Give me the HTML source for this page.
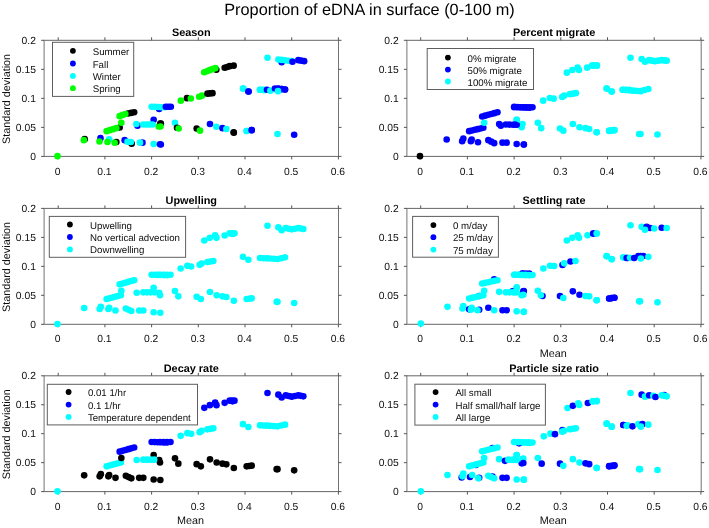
<!DOCTYPE html><html><head><meta charset="utf-8"><style>html,body{margin:0;padding:0;background:#fff;}svg{display:block;will-change:transform;}text{text-rendering:geometricPrecision;font-family:"Liberation Sans",sans-serif;fill:#0d0d0d;}</style></head><body>
<svg width="709" height="528" viewBox="0 0 709 528">
<rect width="709" height="528" fill="#fff"/>
<text x="369.5" y="14.9" font-size="16.3" text-anchor="middle" style="fill:#000">Proportion of eDNA in surface (0-100 m)</text>
<path d="M43.6 40.3H339M43.6 156.4H339" stroke="#666" stroke-width="1" fill="none"/>
<path d="M44.1 40.3V156.4M338.5 40.3V156.4" stroke="#737373" stroke-width="1" fill="none"/>
<path d="M58.2 156.4v3M58.2 40.3v-3M104.9 156.4v3M104.9 40.3v-3M151.6 156.4v3M151.6 40.3v-3M198.3 156.4v3M198.3 40.3v-3M245 156.4v3M245 40.3v-3M291.7 156.4v3M291.7 40.3v-3M338.4 156.4v3M338.4 40.3v-3M44.1 156.4h-3M338.5 156.4h3M44.1 127.38h-3M338.5 127.38h3M44.1 98.35h-3M338.5 98.35h3M44.1 69.33h-3M338.5 69.33h3M44.1 40.3h-3M338.5 40.3h3" stroke="#555555" stroke-width="1" fill="none"/>
<g transform="translate(0,-335.2)" stroke-linecap="round" stroke-linejoin="round" fill="none" stroke-width="6.6">
<circle cx="57.5" cy="491.33" r="3.3" fill="#00ff00" stroke="none"/>
<circle cx="84.67" cy="474.33" r="3.3" fill="#000000" stroke="none"/>
<circle cx="83.83" cy="475.33" r="3.3" fill="#00ff00" stroke="none"/>
<circle cx="100.5" cy="473.33" r="3.3" fill="#0000ff" stroke="none"/>
<circle cx="99.5" cy="476.67" r="3.3" fill="#00ff00" stroke="none"/>
<circle cx="109.17" cy="474.5" r="3.3" fill="#00ffff" stroke="none"/>
<circle cx="107.5" cy="477.17" r="3.3" fill="#00ff00" stroke="none"/>
<circle cx="116.33" cy="477.17" r="3.3" fill="#000000" stroke="none"/>
<circle cx="114.67" cy="478" r="3.3" fill="#00ff00" stroke="none"/>
<circle cx="124.67" cy="475.33" r="3.3" fill="#0000ff" stroke="none"/>
<circle cx="131.67" cy="478.83" r="3.3" fill="#000000" stroke="none"/>
<g fill="#00ffff"><circle cx="127.5" cy="477" r="3.3"/><circle cx="130.83" cy="477.17" r="3.3"/></g>
<circle cx="142.5" cy="477.83" r="3.3" fill="#0000ff" stroke="none"/>
<circle cx="140" cy="477.83" r="3.3" fill="#00ffff" stroke="none"/>
<circle cx="153.67" cy="479.17" r="3.3" fill="#00ffff" stroke="none"/>
<circle cx="160" cy="479.5" r="3.3" fill="#0000ff" stroke="none"/>
<circle cx="119.67" cy="462.67" r="3.3" fill="#000000" stroke="none"/>
<g fill="#00ff00"><circle cx="106.67" cy="466.33" r="3.3"/><circle cx="109.89" cy="465.33" r="3.3"/><circle cx="113.11" cy="464.33" r="3.3"/><circle cx="116.33" cy="463.33" r="3.3"/></g>
<circle cx="121.33" cy="458" r="3.3" fill="#00ff00" stroke="none"/>
<g fill="#000000"><circle cx="128" cy="448.67" r="3.3"/><circle cx="131.08" cy="448.08" r="3.3"/><circle cx="134.17" cy="447.5" r="3.3"/></g>
<g fill="#00ff00"><circle cx="119.67" cy="451.33" r="3.3"/><circle cx="122.5" cy="450.25" r="3.3"/><circle cx="125.33" cy="449.17" r="3.3"/></g>
<circle cx="153.67" cy="455" r="3.3" fill="#0000ff" stroke="none"/>
<circle cx="160.33" cy="458.67" r="3.3" fill="#000000" stroke="none"/>
<circle cx="158.67" cy="461.67" r="3.3" fill="#00ff00" stroke="none"/>
<circle cx="137.5" cy="460.83" r="3.3" fill="#0000ff" stroke="none"/>
<circle cx="136.33" cy="459.17" r="3.3" fill="#00ffff" stroke="none"/>
<g fill="#00ffff"><circle cx="143.33" cy="459.67" r="3.3"/><circle cx="146.39" cy="459.67" r="3.3"/><circle cx="149.44" cy="459.67" r="3.3"/><circle cx="152.5" cy="459.67" r="3.3"/></g>
<circle cx="159.17" cy="444.17" r="3.3" fill="#0000ff" stroke="none"/>
<g fill="#00ffff"><circle cx="151.67" cy="442" r="3.3"/><circle cx="155" cy="442.12" r="3.3"/><circle cx="158.33" cy="442.25" r="3.3"/><circle cx="161.67" cy="442.38" r="3.3"/><circle cx="165" cy="442.5" r="3.3"/></g>
<g fill="#0000ff"><circle cx="165.83" cy="442" r="3.3"/><circle cx="168.33" cy="442" r="3.3"/><circle cx="170.83" cy="442" r="3.3"/></g>
<circle cx="216.33" cy="405" r="3.3" fill="#000000" stroke="none"/>
<g fill="#00ff00"><circle cx="204.17" cy="407.5" r="3.3"/><circle cx="206.92" cy="406.42" r="3.3"/><circle cx="209.67" cy="405.33" r="3.3"/><circle cx="212.5" cy="404.33" r="3.3"/><circle cx="215.33" cy="403.33" r="3.3"/></g>
<g fill="#000000"><circle cx="224.67" cy="403" r="3.3"/><circle cx="227.17" cy="402.17" r="3.3"/><circle cx="229.67" cy="401.33" r="3.3"/><circle cx="233.67" cy="400.83" r="3.3"/></g>
<circle cx="187" cy="433.33" r="3.3" fill="#000000" stroke="none"/>
<circle cx="180.83" cy="435.83" r="3.3" fill="#00ff00" stroke="none"/>
<circle cx="190.83" cy="433.67" r="3.3" fill="#00ff00" stroke="none"/>
<g fill="#00ff00"><circle cx="199.17" cy="432" r="3.3"/><circle cx="202" cy="430.83" r="3.3"/></g>
<g fill="#000000"><circle cx="207.5" cy="428.83" r="3.3"/><circle cx="210" cy="428.58" r="3.3"/><circle cx="212.5" cy="428.33" r="3.3"/></g>
<circle cx="243.33" cy="423.67" r="3.3" fill="#00ffff" stroke="none"/>
<circle cx="248.67" cy="426.67" r="3.3" fill="#0000ff" stroke="none"/>
<g fill="#00ffff"><circle cx="260" cy="425" r="3.3"/><circle cx="262.5" cy="425" r="3.3"/><circle cx="265" cy="425" r="3.3"/></g>
<g fill="#0000ff"><circle cx="278.33" cy="423.67" r="3.3"/><circle cx="281.67" cy="424.17" r="3.3"/><circle cx="285" cy="424.67" r="3.3"/></g>
<circle cx="160.83" cy="458.67" r="3.3" fill="#000000" stroke="none"/>
<circle cx="160.5" cy="461.67" r="3.3" fill="#00ff00" stroke="none"/>
<circle cx="175" cy="458" r="3.3" fill="#00ffff" stroke="none"/>
<circle cx="177" cy="463" r="3.3" fill="#000000" stroke="none"/>
<circle cx="178.67" cy="463.67" r="3.3" fill="#00ff00" stroke="none"/>
<circle cx="196.67" cy="463.67" r="3.3" fill="#000000" stroke="none"/>
<circle cx="200" cy="465.83" r="3.3" fill="#00ff00" stroke="none"/>
<circle cx="210" cy="459.17" r="3.3" fill="#0000ff" stroke="none"/>
<circle cx="216.33" cy="462" r="3.3" fill="#00ffff" stroke="none"/>
<circle cx="222.5" cy="463.33" r="3.3" fill="#0000ff" stroke="none"/>
<circle cx="226.33" cy="464.17" r="3.3" fill="#00ffff" stroke="none"/>
<circle cx="233.83" cy="468" r="3.3" fill="#000000" stroke="none"/>
<circle cx="246.67" cy="466.17" r="3.3" fill="#00ffff" stroke="none"/>
<circle cx="251.67" cy="465.33" r="3.3" fill="#0000ff" stroke="none"/>
<circle cx="160.83" cy="479.67" r="3.3" fill="#0000ff" stroke="none"/>
<circle cx="281.67" cy="397.5" r="3.3" fill="#0000ff" stroke="none"/>
<circle cx="267.5" cy="393" r="3.3" fill="#00ffff" stroke="none"/>
<g fill="#00ffff"><circle cx="278.33" cy="394.67" r="3.3"/><circle cx="281.67" cy="395.08" r="3.3"/><circle cx="285" cy="395.5" r="3.3"/><circle cx="288.33" cy="395.92" r="3.3"/><circle cx="291.67" cy="396.33" r="3.3"/></g>
<circle cx="292.5" cy="397" r="3.3" fill="#0000ff" stroke="none"/>
<g fill="#0000ff"><circle cx="298.33" cy="395.33" r="3.3"/><circle cx="301.25" cy="395.83" r="3.3"/><circle cx="304.17" cy="396.33" r="3.3"/></g>
<circle cx="243" cy="423.67" r="3.3" fill="#00ffff" stroke="none"/>
<circle cx="248.33" cy="426.67" r="3.3" fill="#0000ff" stroke="none"/>
<g fill="#00ffff"><circle cx="260" cy="425" r="3.3"/><circle cx="264.17" cy="425.5" r="3.3"/></g>
<circle cx="267" cy="425" r="3.3" fill="#0000ff" stroke="none"/>
<circle cx="270.33" cy="425.83" r="3.3" fill="#00ffff" stroke="none"/>
<g fill="#0000ff"><circle cx="275" cy="423.67" r="3.3"/><circle cx="278.33" cy="424" r="3.3"/><circle cx="281.67" cy="424.33" r="3.3"/><circle cx="285" cy="424.67" r="3.3"/></g>
<circle cx="278" cy="426.33" r="3.3" fill="#00ffff" stroke="none"/>
<circle cx="233.67" cy="467.5" r="3.3" fill="#000000" stroke="none"/>
<circle cx="246.67" cy="466.17" r="3.3" fill="#00ffff" stroke="none"/>
<circle cx="251.67" cy="465.33" r="3.3" fill="#0000ff" stroke="none"/>
<circle cx="277.5" cy="469.17" r="3.3" fill="#00ffff" stroke="none"/>
<circle cx="294.17" cy="470" r="3.3" fill="#0000ff" stroke="none"/>
</g>
<text x="57.7" y="174.5" font-size="10.3" text-anchor="middle">0</text>
<text x="104.4" y="174.5" font-size="10.3" text-anchor="middle">0.1</text>
<text x="151.1" y="174.5" font-size="10.3" text-anchor="middle">0.2</text>
<text x="197.8" y="174.5" font-size="10.3" text-anchor="middle">0.3</text>
<text x="244.5" y="174.5" font-size="10.3" text-anchor="middle">0.4</text>
<text x="291.2" y="174.5" font-size="10.3" text-anchor="middle">0.5</text>
<text x="337.9" y="174.5" font-size="10.3" text-anchor="middle">0.6</text>
<text x="35.9" y="159.9" font-size="10.3" text-anchor="end">0</text>
<text x="35.9" y="130.88" font-size="10.3" text-anchor="end">0.05</text>
<text x="35.9" y="101.85" font-size="10.3" text-anchor="end">0.1</text>
<text x="35.9" y="72.83" font-size="10.3" text-anchor="end">0.15</text>
<text x="35.9" y="43.8" font-size="10.3" text-anchor="end">0.2</text>
<text x="191.3" y="36" font-size="10.9" font-weight="bold" text-anchor="middle" style="fill:#000">Season</text>
<text transform="translate(10.0,98.95) rotate(-90)" font-size="10.8" text-anchor="middle">Standard deviation</text>
<rect x="52.5" y="42.3" width="81.2" height="54.1" fill="#fff" stroke="#5e5e5e" stroke-width="1"/>
<circle cx="72.9" cy="50.8" r="2.9" fill="#000000"/>
<text x="92.7" y="54.8" font-size="9.7">Summer</text>
<circle cx="72.9" cy="63.5" r="2.9" fill="#0000ff"/>
<text x="92.7" y="67.5" font-size="9.7">Fall</text>
<circle cx="72.9" cy="75.9" r="2.9" fill="#00ffff"/>
<text x="92.7" y="79.9" font-size="9.7">Winter</text>
<circle cx="72.9" cy="88.2" r="2.9" fill="#00ff00"/>
<text x="92.7" y="92.2" font-size="9.7">Spring</text>
<path d="M406.4 40.3H701.7M406.4 156.4H701.7" stroke="#666" stroke-width="1" fill="none"/>
<path d="M406.9 40.3V156.4M701.2 40.3V156.4" stroke="#737373" stroke-width="1" fill="none"/>
<path d="M420.7 156.4v3M420.7 40.3v-3M467.4 156.4v3M467.4 40.3v-3M514.1 156.4v3M514.1 40.3v-3M560.8 156.4v3M560.8 40.3v-3M607.5 156.4v3M607.5 40.3v-3M654.2 156.4v3M654.2 40.3v-3M700.9 156.4v3M700.9 40.3v-3M406.9 156.4h-3M701.2 156.4h3M406.9 127.38h-3M701.2 127.38h3M406.9 98.35h-3M701.2 98.35h3M406.9 69.33h-3M701.2 69.33h3M406.9 40.3h-3M701.2 40.3h3" stroke="#555555" stroke-width="1" fill="none"/>
<g transform="translate(362.5,-335.2)" stroke-linecap="round" stroke-linejoin="round" fill="none" stroke-width="6.6">
<circle cx="57.5" cy="491.33" r="3.3" fill="#000000" stroke="none"/>
<circle cx="84.17" cy="474.67" r="3.3" fill="#0000ff" stroke="none"/>
<g fill="#0000ff"><circle cx="99.67" cy="476.33" r="3.3"/><circle cx="100.83" cy="473.67" r="3.3"/></g>
<g fill="#0000ff"><circle cx="108.33" cy="476.33" r="3.3"/><circle cx="109.17" cy="474.67" r="3.3"/></g>
<circle cx="115.5" cy="477.5" r="3.3" fill="#0000ff" stroke="none"/>
<g fill="#0000ff"><circle cx="125.83" cy="475.33" r="3.3"/><circle cx="128.75" cy="476.83" r="3.3"/><circle cx="131.67" cy="478.33" r="3.3"/></g>
<g fill="#0000ff"><circle cx="140" cy="477.83" r="3.3"/><circle cx="144.17" cy="477.83" r="3.3"/></g>
<circle cx="154.17" cy="479.17" r="3.3" fill="#0000ff" stroke="none"/>
<circle cx="161.33" cy="479.67" r="3.3" fill="#0000ff" stroke="none"/>
<g fill="#0000ff"><circle cx="106.67" cy="466.33" r="3.3"/><circle cx="109.5" cy="465.67" r="3.3"/><circle cx="112.33" cy="465" r="3.3"/><circle cx="115.17" cy="464.33" r="3.3"/><circle cx="118" cy="463.67" r="3.3"/><circle cx="120.83" cy="463" r="3.3"/></g>
<circle cx="121.67" cy="458" r="3.3" fill="#00ffff" stroke="none"/>
<g fill="#0000ff"><circle cx="119.67" cy="451.67" r="3.3"/><circle cx="122.73" cy="450.83" r="3.3"/><circle cx="125.8" cy="450" r="3.3"/><circle cx="128.87" cy="449.17" r="3.3"/><circle cx="131.93" cy="448.33" r="3.3"/><circle cx="135" cy="447.5" r="3.3"/></g>
<circle cx="154.17" cy="455" r="3.3" fill="#00ffff" stroke="none"/>
<g fill="#00ffff"><circle cx="160" cy="459.17" r="3.3"/><circle cx="159.17" cy="462.5" r="3.3"/></g>
<g fill="#0000ff"><circle cx="136.67" cy="459.17" r="3.3"/><circle cx="138.33" cy="460.83" r="3.3"/></g>
<g fill="#0000ff"><circle cx="143.33" cy="459.67" r="3.3"/><circle cx="146.94" cy="459.78" r="3.3"/><circle cx="150.56" cy="459.89" r="3.3"/><circle cx="154.17" cy="460" r="3.3"/></g>
<g fill="#0000ff"><circle cx="151.67" cy="442" r="3.3"/><circle cx="154.73" cy="442.2" r="3.3"/><circle cx="157.8" cy="442.4" r="3.3"/><circle cx="160.87" cy="442.6" r="3.3"/><circle cx="163.93" cy="442.8" r="3.3"/><circle cx="167" cy="443" r="3.3"/></g>
<g fill="#0000ff"><circle cx="151.67" cy="442.5" r="3.3"/><circle cx="154.72" cy="442.5" r="3.3"/><circle cx="157.78" cy="442.5" r="3.3"/><circle cx="160.83" cy="442.5" r="3.3"/><circle cx="163.89" cy="442.5" r="3.3"/><circle cx="166.94" cy="442.5" r="3.3"/><circle cx="170" cy="442.5" r="3.3"/></g>
<circle cx="204.33" cy="407.83" r="3.3" fill="#00ffff" stroke="none"/>
<circle cx="209.83" cy="405.17" r="3.3" fill="#00ffff" stroke="none"/>
<g fill="#00ffff"><circle cx="215.17" cy="402.67" r="3.3"/><circle cx="216.5" cy="405.17" r="3.3"/></g>
<circle cx="224.67" cy="402.83" r="3.3" fill="#00ffff" stroke="none"/>
<g fill="#00ffff"><circle cx="229.67" cy="400.67" r="3.3"/><circle cx="232.08" cy="400.67" r="3.3"/><circle cx="234.5" cy="400.67" r="3.3"/></g>
<circle cx="180.67" cy="435.83" r="3.3" fill="#00ffff" stroke="none"/>
<g fill="#00ffff"><circle cx="187.33" cy="433.17" r="3.3"/><circle cx="191.17" cy="433.83" r="3.3"/></g>
<g fill="#00ffff"><circle cx="199.67" cy="432.17" r="3.3"/><circle cx="201.67" cy="430.83" r="3.3"/></g>
<g fill="#00ffff"><circle cx="207.5" cy="429.33" r="3.3"/><circle cx="210.42" cy="428.83" r="3.3"/><circle cx="213.33" cy="428.33" r="3.3"/></g>
<circle cx="244.17" cy="423.67" r="3.3" fill="#00ffff" stroke="none"/>
<circle cx="249.17" cy="426.67" r="3.3" fill="#00ffff" stroke="none"/>
<g fill="#00ffff"><circle cx="260.83" cy="425" r="3.3"/><circle cx="263.75" cy="425" r="3.3"/><circle cx="266.67" cy="425" r="3.3"/></g>
<circle cx="154.17" cy="455" r="3.3" fill="#00ffff" stroke="none"/>
<circle cx="152.5" cy="459.67" r="3.3" fill="#0000ff" stroke="none"/>
<circle cx="175.33" cy="458" r="3.3" fill="#00ffff" stroke="none"/>
<circle cx="178.67" cy="463.33" r="3.3" fill="#00ffff" stroke="none"/>
<g fill="#00ffff"><circle cx="197.5" cy="463.67" r="3.3"/><circle cx="200.83" cy="465.83" r="3.3"/></g>
<circle cx="210.33" cy="459.17" r="3.3" fill="#00ffff" stroke="none"/>
<circle cx="217" cy="462.5" r="3.3" fill="#00ffff" stroke="none"/>
<g fill="#00ffff"><circle cx="223" cy="463.33" r="3.3"/><circle cx="226.67" cy="464.17" r="3.3"/></g>
<circle cx="234.17" cy="467.5" r="3.3" fill="#00ffff" stroke="none"/>
<g fill="#00ffff"><circle cx="246.67" cy="466.17" r="3.3"/><circle cx="249.33" cy="465.75" r="3.3"/><circle cx="252" cy="465.33" r="3.3"/></g>
<circle cx="276.67" cy="469.17" r="3.3" fill="#00ffff" stroke="none"/>
<circle cx="161.33" cy="479.67" r="3.3" fill="#0000ff" stroke="none"/>
<circle cx="268" cy="393" r="3.3" fill="#00ffff" stroke="none"/>
<g fill="#00ffff"><circle cx="279.17" cy="394.17" r="3.3"/><circle cx="282.5" cy="397" r="3.3"/><circle cx="286.67" cy="395.33" r="3.3"/><circle cx="289.58" cy="395.83" r="3.3"/><circle cx="292.5" cy="396.33" r="3.3"/><circle cx="295.83" cy="395.83" r="3.3"/><circle cx="299.17" cy="395.33" r="3.3"/><circle cx="301.67" cy="395.58" r="3.3"/><circle cx="304.17" cy="395.83" r="3.3"/></g>
<circle cx="244.17" cy="423.67" r="3.3" fill="#00ffff" stroke="none"/>
<circle cx="249.17" cy="426.67" r="3.3" fill="#00ffff" stroke="none"/>
<g fill="#00ffff"><circle cx="260" cy="425" r="3.3"/><circle cx="263.33" cy="425.28" r="3.3"/><circle cx="266.67" cy="425.56" r="3.3"/><circle cx="270" cy="425.83" r="3.3"/><circle cx="272.78" cy="426" r="3.3"/><circle cx="275.56" cy="426.17" r="3.3"/><circle cx="278.33" cy="426.33" r="3.3"/><circle cx="282.08" cy="425.25" r="3.3"/><circle cx="285.83" cy="424.17" r="3.3"/></g>
<g fill="#00ffff"><circle cx="230" cy="400.83" r="3.3"/><circle cx="234.17" cy="400.83" r="3.3"/></g>
<circle cx="234.17" cy="467.5" r="3.3" fill="#00ffff" stroke="none"/>
<g fill="#00ffff"><circle cx="246.67" cy="465.83" r="3.3"/><circle cx="249.17" cy="465.58" r="3.3"/><circle cx="251.67" cy="465.33" r="3.3"/></g>
<circle cx="278" cy="469.17" r="3.3" fill="#00ffff" stroke="none"/>
<circle cx="295" cy="469.67" r="3.3" fill="#00ffff" stroke="none"/>
</g>
<text x="420.2" y="174.5" font-size="10.3" text-anchor="middle">0</text>
<text x="466.9" y="174.5" font-size="10.3" text-anchor="middle">0.1</text>
<text x="513.6" y="174.5" font-size="10.3" text-anchor="middle">0.2</text>
<text x="560.3" y="174.5" font-size="10.3" text-anchor="middle">0.3</text>
<text x="607" y="174.5" font-size="10.3" text-anchor="middle">0.4</text>
<text x="653.7" y="174.5" font-size="10.3" text-anchor="middle">0.5</text>
<text x="700.4" y="174.5" font-size="10.3" text-anchor="middle">0.6</text>
<text x="398.7" y="159.9" font-size="10.3" text-anchor="end">0</text>
<text x="398.7" y="130.88" font-size="10.3" text-anchor="end">0.05</text>
<text x="398.7" y="101.85" font-size="10.3" text-anchor="end">0.1</text>
<text x="398.7" y="72.83" font-size="10.3" text-anchor="end">0.15</text>
<text x="398.7" y="43.8" font-size="10.3" text-anchor="end">0.2</text>
<text x="554.05" y="36" font-size="10.9" font-weight="bold" text-anchor="middle" style="fill:#000">Percent migrate</text>
<rect x="427.2" y="48.5" width="106.3" height="41" fill="#fff" stroke="#5e5e5e" stroke-width="1"/>
<circle cx="447.9" cy="57.6" r="2.9" fill="#000000"/>
<text x="467.5" y="61.6" font-size="9.7">0% migrate</text>
<circle cx="447.9" cy="69.6" r="2.9" fill="#0000ff"/>
<text x="467.5" y="73.6" font-size="9.7">50% migrate</text>
<circle cx="447.9" cy="81.5" r="2.9" fill="#00ffff"/>
<text x="467.5" y="85.5" font-size="9.7">100% migrate</text>
<path d="M43.6 208.4H339M43.6 324.3H339" stroke="#666" stroke-width="1" fill="none"/>
<path d="M44.1 208.4V324.3M338.5 208.4V324.3" stroke="#737373" stroke-width="1" fill="none"/>
<path d="M58.2 324.3v3M58.2 208.4v-3M104.9 324.3v3M104.9 208.4v-3M151.6 324.3v3M151.6 208.4v-3M198.3 324.3v3M198.3 208.4v-3M245 324.3v3M245 208.4v-3M291.7 324.3v3M291.7 208.4v-3M338.4 324.3v3M338.4 208.4v-3M44.1 324.3h-3M338.5 324.3h3M44.1 295.32h-3M338.5 295.32h3M44.1 266.35h-3M338.5 266.35h3M44.1 237.38h-3M338.5 237.38h3M44.1 208.4h-3M338.5 208.4h3" stroke="#555555" stroke-width="1" fill="none"/>
<g transform="translate(0,-167.3)" stroke-linecap="round" stroke-linejoin="round" fill="none" stroke-width="6.6">
<circle cx="57.5" cy="491.33" r="3.3" fill="#00ffff" stroke="none"/>
<circle cx="84.17" cy="475.33" r="3.3" fill="#00ffff" stroke="none"/>
<g fill="#00ffff"><circle cx="99.67" cy="476.33" r="3.3"/><circle cx="100.83" cy="474.17" r="3.3"/></g>
<g fill="#00ffff"><circle cx="108.33" cy="476.33" r="3.3"/><circle cx="109.17" cy="475" r="3.3"/></g>
<circle cx="115.5" cy="477.83" r="3.3" fill="#00ffff" stroke="none"/>
<g fill="#00ffff"><circle cx="125.83" cy="475.83" r="3.3"/><circle cx="128.58" cy="477.08" r="3.3"/><circle cx="131.33" cy="478.33" r="3.3"/></g>
<g fill="#00ffff"><circle cx="139.17" cy="477.83" r="3.3"/><circle cx="143.33" cy="477.83" r="3.3"/></g>
<circle cx="153.67" cy="479.5" r="3.3" fill="#00ffff" stroke="none"/>
<circle cx="160.33" cy="480" r="3.3" fill="#00ffff" stroke="none"/>
<g fill="#00ffff"><circle cx="106.67" cy="466.33" r="3.3"/><circle cx="109.5" cy="465.57" r="3.3"/><circle cx="112.33" cy="464.8" r="3.3"/><circle cx="115.17" cy="464.03" r="3.3"/><circle cx="118" cy="463.27" r="3.3"/><circle cx="120.83" cy="462.5" r="3.3"/></g>
<circle cx="121.33" cy="458" r="3.3" fill="#00ffff" stroke="none"/>
<g fill="#00ffff"><circle cx="119.67" cy="451.67" r="3.3"/><circle cx="122.57" cy="450.83" r="3.3"/><circle cx="125.47" cy="450" r="3.3"/><circle cx="128.37" cy="449.17" r="3.3"/><circle cx="131.27" cy="448.33" r="3.3"/><circle cx="134.17" cy="447.5" r="3.3"/></g>
<circle cx="153.67" cy="455" r="3.3" fill="#00ffff" stroke="none"/>
<g fill="#00ffff"><circle cx="159.17" cy="460" r="3.3"/><circle cx="160" cy="462.5" r="3.3"/></g>
<circle cx="136.67" cy="460" r="3.3" fill="#00ffff" stroke="none"/>
<g fill="#00ffff"><circle cx="143.33" cy="459.67" r="3.3"/><circle cx="146.94" cy="459.67" r="3.3"/><circle cx="150.56" cy="459.67" r="3.3"/><circle cx="154.17" cy="459.67" r="3.3"/></g>
<g fill="#00ffff"><circle cx="151.67" cy="442" r="3.3"/><circle cx="154.73" cy="442.1" r="3.3"/><circle cx="157.8" cy="442.2" r="3.3"/><circle cx="160.87" cy="442.3" r="3.3"/><circle cx="163.93" cy="442.4" r="3.3"/><circle cx="167" cy="442.5" r="3.3"/></g>
<g fill="#00ffff"><circle cx="160" cy="442" r="3.3"/><circle cx="163.5" cy="442" r="3.3"/><circle cx="167" cy="442" r="3.3"/><circle cx="170.5" cy="442" r="3.3"/></g>
<circle cx="204.33" cy="407.83" r="3.3" fill="#00ffff" stroke="none"/>
<circle cx="209.83" cy="405.17" r="3.3" fill="#00ffff" stroke="none"/>
<g fill="#00ffff"><circle cx="215.17" cy="402.67" r="3.3"/><circle cx="216.5" cy="405.17" r="3.3"/></g>
<circle cx="224.67" cy="402.83" r="3.3" fill="#00ffff" stroke="none"/>
<g fill="#00ffff"><circle cx="229.67" cy="400.67" r="3.3"/><circle cx="232.08" cy="400.67" r="3.3"/><circle cx="234.5" cy="400.67" r="3.3"/></g>
<circle cx="232.5" cy="401.33" r="3.3" fill="#00ffff" stroke="none"/>
<circle cx="180.67" cy="435.83" r="3.3" fill="#00ffff" stroke="none"/>
<g fill="#00ffff"><circle cx="187.33" cy="433.17" r="3.3"/><circle cx="191.17" cy="433.83" r="3.3"/></g>
<g fill="#00ffff"><circle cx="199.67" cy="432.17" r="3.3"/><circle cx="201.67" cy="430.83" r="3.3"/></g>
<g fill="#00ffff"><circle cx="207.5" cy="429.33" r="3.3"/><circle cx="210.42" cy="428.83" r="3.3"/><circle cx="213.33" cy="428.33" r="3.3"/></g>
<circle cx="267.5" cy="393" r="3.3" fill="#00ffff" stroke="none"/>
<g fill="#00ffff"><circle cx="278.33" cy="394.67" r="3.3"/><circle cx="281.67" cy="397.5" r="3.3"/><circle cx="285.83" cy="395.33" r="3.3"/><circle cx="288.75" cy="396" r="3.3"/><circle cx="291.67" cy="396.67" r="3.3"/><circle cx="295" cy="396" r="3.3"/><circle cx="298.33" cy="395.33" r="3.3"/><circle cx="300.83" cy="395.83" r="3.3"/><circle cx="303.33" cy="396.33" r="3.3"/></g>
<circle cx="243" cy="424.17" r="3.3" fill="#00ffff" stroke="none"/>
<circle cx="248.33" cy="427" r="3.3" fill="#00ffff" stroke="none"/>
<g fill="#00ffff"><circle cx="260" cy="425.33" r="3.3"/><circle cx="263.33" cy="425.5" r="3.3"/><circle cx="266.67" cy="425.67" r="3.3"/><circle cx="270" cy="425.83" r="3.3"/><circle cx="273.75" cy="426.08" r="3.3"/><circle cx="277.5" cy="426.33" r="3.3"/><circle cx="281.25" cy="425.5" r="3.3"/><circle cx="285" cy="424.67" r="3.3"/></g>
<circle cx="175" cy="458.33" r="3.3" fill="#00ffff" stroke="none"/>
<circle cx="178.33" cy="463.67" r="3.3" fill="#00ffff" stroke="none"/>
<g fill="#00ffff"><circle cx="196.67" cy="464.17" r="3.3"/><circle cx="200.83" cy="466.33" r="3.3"/></g>
<circle cx="210" cy="459.33" r="3.3" fill="#00ffff" stroke="none"/>
<circle cx="216.67" cy="462.5" r="3.3" fill="#00ffff" stroke="none"/>
<g fill="#00ffff"><circle cx="222.5" cy="463.67" r="3.3"/><circle cx="226.33" cy="464.33" r="3.3"/></g>
<circle cx="233.83" cy="468" r="3.3" fill="#00ffff" stroke="none"/>
<g fill="#00ffff"><circle cx="246.67" cy="466.33" r="3.3"/><circle cx="249.17" cy="466" r="3.3"/><circle cx="251.67" cy="465.67" r="3.3"/></g>
<circle cx="276.67" cy="469.17" r="3.3" fill="#00ffff" stroke="none"/>
<circle cx="277.5" cy="469.17" r="3.3" fill="#00ffff" stroke="none"/>
<circle cx="294.17" cy="470.33" r="3.3" fill="#00ffff" stroke="none"/>
</g>
<text x="57.7" y="342.4" font-size="10.3" text-anchor="middle">0</text>
<text x="104.4" y="342.4" font-size="10.3" text-anchor="middle">0.1</text>
<text x="151.1" y="342.4" font-size="10.3" text-anchor="middle">0.2</text>
<text x="197.8" y="342.4" font-size="10.3" text-anchor="middle">0.3</text>
<text x="244.5" y="342.4" font-size="10.3" text-anchor="middle">0.4</text>
<text x="291.2" y="342.4" font-size="10.3" text-anchor="middle">0.5</text>
<text x="337.9" y="342.4" font-size="10.3" text-anchor="middle">0.6</text>
<text x="35.9" y="327.8" font-size="10.3" text-anchor="end">0</text>
<text x="35.9" y="298.82" font-size="10.3" text-anchor="end">0.05</text>
<text x="35.9" y="269.85" font-size="10.3" text-anchor="end">0.1</text>
<text x="35.9" y="240.88" font-size="10.3" text-anchor="end">0.15</text>
<text x="35.9" y="211.9" font-size="10.3" text-anchor="end">0.2</text>
<text x="191.3" y="204.1" font-size="10.9" font-weight="bold" text-anchor="middle" style="fill:#000">Upwelling</text>
<text transform="translate(10.0,266.95) rotate(-90)" font-size="10.8" text-anchor="middle">Standard deviation</text>
<rect x="49.3" y="216.4" width="136.3" height="40.9" fill="#fff" stroke="#5e5e5e" stroke-width="1"/>
<circle cx="69.9" cy="224.5" r="2.9" fill="#000000"/>
<text x="90" y="228.5" font-size="9.7">Upwelling</text>
<circle cx="69.9" cy="237" r="2.9" fill="#0000ff"/>
<text x="90" y="241" font-size="9.7">No vertical advection</text>
<circle cx="69.9" cy="249.4" r="2.9" fill="#00ffff"/>
<text x="90" y="253.4" font-size="9.7">Downwelling</text>
<path d="M406.4 208.4H701.7M406.4 324.3H701.7" stroke="#666" stroke-width="1" fill="none"/>
<path d="M406.9 208.4V324.3M701.2 208.4V324.3" stroke="#737373" stroke-width="1" fill="none"/>
<path d="M420.7 324.3v3M420.7 208.4v-3M467.4 324.3v3M467.4 208.4v-3M514.1 324.3v3M514.1 208.4v-3M560.8 324.3v3M560.8 208.4v-3M607.5 324.3v3M607.5 208.4v-3M654.2 324.3v3M654.2 208.4v-3M700.9 324.3v3M700.9 208.4v-3M406.9 324.3h-3M701.2 324.3h3M406.9 295.32h-3M701.2 295.32h3M406.9 266.35h-3M701.2 266.35h3M406.9 237.38h-3M701.2 237.38h3M406.9 208.4h-3M701.2 208.4h3" stroke="#555555" stroke-width="1" fill="none"/>
<g transform="translate(362.5,-167.3)" stroke-linecap="round" stroke-linejoin="round" fill="none" stroke-width="6.6">
<circle cx="58.33" cy="490.83" r="3.3" fill="#00ffff" stroke="none"/>
<circle cx="85" cy="474.17" r="3.3" fill="#00ffff" stroke="none"/>
<g fill="#00ffff"><circle cx="100" cy="475.83" r="3.3"/><circle cx="100.83" cy="473.33" r="3.3"/></g>
<circle cx="106.67" cy="476.67" r="3.3" fill="#0000ff" stroke="none"/>
<g fill="#00ffff"><circle cx="109.17" cy="475" r="3.3"/><circle cx="108.33" cy="477" r="3.3"/></g>
<circle cx="116.67" cy="477" r="3.3" fill="#0000ff" stroke="none"/>
<circle cx="115" cy="477.5" r="3.3" fill="#00ffff" stroke="none"/>
<circle cx="125.83" cy="475" r="3.3" fill="#0000ff" stroke="none"/>
<circle cx="131.67" cy="477.5" r="3.3" fill="#00ffff" stroke="none"/>
<g fill="#0000ff"><circle cx="140" cy="477.5" r="3.3"/><circle cx="144.17" cy="477.5" r="3.3"/></g>
<circle cx="154.17" cy="478.67" r="3.3" fill="#00ffff" stroke="none"/>
<circle cx="161.33" cy="479.17" r="3.3" fill="#00ffff" stroke="none"/>
<circle cx="116.67" cy="463.33" r="3.3" fill="#0000ff" stroke="none"/>
<g fill="#00ffff"><circle cx="106.67" cy="465.83" r="3.3"/><circle cx="109.5" cy="465.17" r="3.3"/><circle cx="112.33" cy="464.5" r="3.3"/><circle cx="115.17" cy="463.83" r="3.3"/><circle cx="118" cy="463.17" r="3.3"/><circle cx="120.83" cy="462.5" r="3.3"/></g>
<circle cx="121.67" cy="458" r="3.3" fill="#00ffff" stroke="none"/>
<circle cx="131.67" cy="446.67" r="3.3" fill="#0000ff" stroke="none"/>
<g fill="#00ffff"><circle cx="119.67" cy="450.83" r="3.3"/><circle cx="122.73" cy="450.17" r="3.3"/><circle cx="125.8" cy="449.5" r="3.3"/><circle cx="128.87" cy="448.83" r="3.3"/><circle cx="131.93" cy="448.17" r="3.3"/><circle cx="135" cy="447.5" r="3.3"/></g>
<circle cx="154.17" cy="455" r="3.3" fill="#00ffff" stroke="none"/>
<circle cx="160.83" cy="458.67" r="3.3" fill="#0000ff" stroke="none"/>
<circle cx="159.17" cy="462.5" r="3.3" fill="#00ffff" stroke="none"/>
<circle cx="136.67" cy="459.17" r="3.3" fill="#00ffff" stroke="none"/>
<circle cx="150" cy="458.67" r="3.3" fill="#0000ff" stroke="none"/>
<g fill="#00ffff"><circle cx="143.33" cy="459.67" r="3.3"/><circle cx="146.94" cy="459.67" r="3.3"/><circle cx="150.56" cy="459.67" r="3.3"/><circle cx="154.17" cy="459.67" r="3.3"/></g>
<circle cx="160" cy="440.83" r="3.3" fill="#0000ff" stroke="none"/>
<g fill="#00ffff"><circle cx="151.67" cy="442" r="3.3"/><circle cx="154.73" cy="442.1" r="3.3"/><circle cx="157.8" cy="442.2" r="3.3"/><circle cx="160.87" cy="442.3" r="3.3"/><circle cx="163.93" cy="442.4" r="3.3"/><circle cx="167" cy="442.5" r="3.3"/></g>
<circle cx="204.33" cy="407.83" r="3.3" fill="#00ffff" stroke="none"/>
<circle cx="209.83" cy="405.17" r="3.3" fill="#00ffff" stroke="none"/>
<g fill="#00ffff"><circle cx="215.17" cy="402.67" r="3.3"/><circle cx="216.5" cy="405.17" r="3.3"/></g>
<circle cx="225" cy="402.5" r="3.3" fill="#00ffff" stroke="none"/>
<circle cx="230.83" cy="400.83" r="3.3" fill="#0000ff" stroke="none"/>
<circle cx="234.17" cy="400.83" r="3.3" fill="#00ffff" stroke="none"/>
<circle cx="180.83" cy="435.83" r="3.3" fill="#00ffff" stroke="none"/>
<g fill="#00ffff"><circle cx="187.5" cy="433" r="3.3"/><circle cx="191.67" cy="433.33" r="3.3"/></g>
<circle cx="200" cy="432.33" r="3.3" fill="#0000ff" stroke="none"/>
<circle cx="201.67" cy="430.67" r="3.3" fill="#00ffff" stroke="none"/>
<circle cx="208" cy="428.83" r="3.3" fill="#0000ff" stroke="none"/>
<circle cx="213" cy="428.33" r="3.3" fill="#00ffff" stroke="none"/>
<g fill="#0000ff"><circle cx="160" cy="440.83" r="3.3"/><circle cx="163.33" cy="440.83" r="3.3"/><circle cx="166.67" cy="440.83" r="3.3"/></g>
<g fill="#00ffff"><circle cx="152.5" cy="442" r="3.3"/><circle cx="156" cy="442.07" r="3.3"/><circle cx="159.5" cy="442.13" r="3.3"/><circle cx="163" cy="442.2" r="3.3"/><circle cx="166.5" cy="442.27" r="3.3"/><circle cx="170" cy="442.33" r="3.3"/></g>
<circle cx="244.17" cy="423.67" r="3.3" fill="#00ffff" stroke="none"/>
<circle cx="249.17" cy="426.67" r="3.3" fill="#00ffff" stroke="none"/>
<circle cx="260.83" cy="424.67" r="3.3" fill="#00ffff" stroke="none"/>
<circle cx="265" cy="425.33" r="3.3" fill="#0000ff" stroke="none"/>
<circle cx="154.17" cy="454.67" r="3.3" fill="#00ffff" stroke="none"/>
<circle cx="152.5" cy="459.67" r="3.3" fill="#00ffff" stroke="none"/>
<circle cx="161.33" cy="458.33" r="3.3" fill="#0000ff" stroke="none"/>
<circle cx="160.83" cy="462" r="3.3" fill="#00ffff" stroke="none"/>
<circle cx="175.33" cy="458" r="3.3" fill="#00ffff" stroke="none"/>
<circle cx="180" cy="463.33" r="3.3" fill="#0000ff" stroke="none"/>
<circle cx="178.33" cy="462.5" r="3.3" fill="#00ffff" stroke="none"/>
<circle cx="197.5" cy="463.33" r="3.3" fill="#0000ff" stroke="none"/>
<circle cx="200.83" cy="465.33" r="3.3" fill="#00ffff" stroke="none"/>
<circle cx="210.33" cy="458.67" r="3.3" fill="#0000ff" stroke="none"/>
<circle cx="217" cy="462" r="3.3" fill="#0000ff" stroke="none"/>
<g fill="#00ffff"><circle cx="223" cy="463.33" r="3.3"/><circle cx="226.67" cy="463.67" r="3.3"/></g>
<circle cx="234.17" cy="467.5" r="3.3" fill="#00ffff" stroke="none"/>
<g fill="#0000ff"><circle cx="246.67" cy="465.83" r="3.3"/><circle cx="249.33" cy="465.42" r="3.3"/><circle cx="252" cy="465" r="3.3"/></g>
<circle cx="276.67" cy="468.67" r="3.3" fill="#00ffff" stroke="none"/>
<circle cx="161.33" cy="479.17" r="3.3" fill="#00ffff" stroke="none"/>
<circle cx="230.83" cy="400.83" r="3.3" fill="#0000ff" stroke="none"/>
<circle cx="234.17" cy="400.83" r="3.3" fill="#00ffff" stroke="none"/>
<circle cx="268" cy="392.5" r="3.3" fill="#00ffff" stroke="none"/>
<circle cx="279.17" cy="394.17" r="3.3" fill="#00ffff" stroke="none"/>
<g fill="#0000ff"><circle cx="284.17" cy="394.17" r="3.3"/><circle cx="287.5" cy="395.33" r="3.3"/></g>
<circle cx="282.5" cy="397" r="3.3" fill="#00ffff" stroke="none"/>
<circle cx="291.67" cy="395.83" r="3.3" fill="#00ffff" stroke="none"/>
<circle cx="299.17" cy="395" r="3.3" fill="#0000ff" stroke="none"/>
<circle cx="304.17" cy="395.33" r="3.3" fill="#00ffff" stroke="none"/>
<circle cx="244.17" cy="423.33" r="3.3" fill="#00ffff" stroke="none"/>
<circle cx="249.17" cy="426.33" r="3.3" fill="#00ffff" stroke="none"/>
<circle cx="260.83" cy="424.67" r="3.3" fill="#00ffff" stroke="none"/>
<circle cx="264.17" cy="425.33" r="3.3" fill="#0000ff" stroke="none"/>
<circle cx="267.5" cy="425" r="3.3" fill="#00ffff" stroke="none"/>
<g fill="#0000ff"><circle cx="271.67" cy="425.33" r="3.3"/><circle cx="275.83" cy="423.33" r="3.3"/><circle cx="278.33" cy="423.33" r="3.3"/><circle cx="280.83" cy="423.33" r="3.3"/></g>
<circle cx="278.33" cy="425.83" r="3.3" fill="#00ffff" stroke="none"/>
<circle cx="285.83" cy="424.17" r="3.3" fill="#00ffff" stroke="none"/>
<circle cx="234.17" cy="467.5" r="3.3" fill="#00ffff" stroke="none"/>
<g fill="#0000ff"><circle cx="246.67" cy="465.83" r="3.3"/><circle cx="249.17" cy="465.42" r="3.3"/><circle cx="251.67" cy="465" r="3.3"/></g>
<circle cx="277.5" cy="468.67" r="3.3" fill="#00ffff" stroke="none"/>
<circle cx="295" cy="469.67" r="3.3" fill="#00ffff" stroke="none"/>
</g>
<text x="420.2" y="342.4" font-size="10.3" text-anchor="middle">0</text>
<text x="466.9" y="342.4" font-size="10.3" text-anchor="middle">0.1</text>
<text x="513.6" y="342.4" font-size="10.3" text-anchor="middle">0.2</text>
<text x="560.3" y="342.4" font-size="10.3" text-anchor="middle">0.3</text>
<text x="607" y="342.4" font-size="10.3" text-anchor="middle">0.4</text>
<text x="653.7" y="342.4" font-size="10.3" text-anchor="middle">0.5</text>
<text x="700.4" y="342.4" font-size="10.3" text-anchor="middle">0.6</text>
<text x="398.7" y="327.8" font-size="10.3" text-anchor="end">0</text>
<text x="398.7" y="298.82" font-size="10.3" text-anchor="end">0.05</text>
<text x="398.7" y="269.85" font-size="10.3" text-anchor="end">0.1</text>
<text x="398.7" y="240.88" font-size="10.3" text-anchor="end">0.15</text>
<text x="398.7" y="211.9" font-size="10.3" text-anchor="end">0.2</text>
<text x="554.05" y="204.1" font-size="10.9" font-weight="bold" text-anchor="middle" style="fill:#000">Settling rate</text>
<text x="553.25" y="357.1" font-size="10.8" text-anchor="middle">Mean</text>
<rect x="412.6" y="216.4" width="85.8" height="40.8" fill="#fff" stroke="#5e5e5e" stroke-width="1"/>
<circle cx="433.4" cy="225.1" r="2.9" fill="#000000"/>
<text x="452.9" y="229.1" font-size="9.7">0 m/day</text>
<circle cx="433.4" cy="237.2" r="2.9" fill="#0000ff"/>
<text x="452.9" y="241.2" font-size="9.7">25 m/day</text>
<circle cx="433.4" cy="249.6" r="2.9" fill="#00ffff"/>
<text x="452.9" y="253.6" font-size="9.7">75 m/day</text>
<path d="M43.6 375.8H339M43.6 491.6H339" stroke="#666" stroke-width="1" fill="none"/>
<path d="M44.1 375.8V491.6M338.5 375.8V491.6" stroke="#737373" stroke-width="1" fill="none"/>
<path d="M58.2 491.6v3M58.2 375.8v-3M104.9 491.6v3M104.9 375.8v-3M151.6 491.6v3M151.6 375.8v-3M198.3 491.6v3M198.3 375.8v-3M245 491.6v3M245 375.8v-3M291.7 491.6v3M291.7 375.8v-3M338.4 491.6v3M338.4 375.8v-3M44.1 491.6h-3M338.5 491.6h3M44.1 462.65h-3M338.5 462.65h3M44.1 433.7h-3M338.5 433.7h3M44.1 404.75h-3M338.5 404.75h3M44.1 375.8h-3M338.5 375.8h3" stroke="#555555" stroke-width="1" fill="none"/>
<g transform="translate(0,0)" stroke-linecap="round" stroke-linejoin="round" fill="none" stroke-width="6.6">
<circle cx="57.5" cy="491.33" r="3.3" fill="#00ffff" stroke="none"/>
<circle cx="84.17" cy="475.33" r="3.3" fill="#000000" stroke="none"/>
<g fill="#000000"><circle cx="99.67" cy="476.33" r="3.3"/><circle cx="100.83" cy="474.17" r="3.3"/></g>
<g fill="#000000"><circle cx="108.33" cy="476.33" r="3.3"/><circle cx="109.17" cy="475" r="3.3"/></g>
<circle cx="115.5" cy="477.83" r="3.3" fill="#000000" stroke="none"/>
<g fill="#000000"><circle cx="125.83" cy="475.83" r="3.3"/><circle cx="128.58" cy="477.08" r="3.3"/><circle cx="131.33" cy="478.33" r="3.3"/></g>
<g fill="#000000"><circle cx="139.17" cy="477.83" r="3.3"/><circle cx="143.33" cy="477.83" r="3.3"/></g>
<circle cx="153.67" cy="479.5" r="3.3" fill="#000000" stroke="none"/>
<circle cx="160.33" cy="480" r="3.3" fill="#000000" stroke="none"/>
<g fill="#00ffff"><circle cx="106.67" cy="466.33" r="3.3"/><circle cx="109.5" cy="465.57" r="3.3"/><circle cx="112.33" cy="464.8" r="3.3"/><circle cx="115.17" cy="464.03" r="3.3"/><circle cx="118" cy="463.27" r="3.3"/><circle cx="120.83" cy="462.5" r="3.3"/></g>
<circle cx="121.33" cy="458" r="3.3" fill="#000000" stroke="none"/>
<g fill="#0000ff"><circle cx="119.67" cy="451.67" r="3.3"/><circle cx="122.57" cy="450.83" r="3.3"/><circle cx="125.47" cy="450" r="3.3"/><circle cx="128.37" cy="449.17" r="3.3"/><circle cx="131.27" cy="448.33" r="3.3"/><circle cx="134.17" cy="447.5" r="3.3"/></g>
<circle cx="153.67" cy="455" r="3.3" fill="#000000" stroke="none"/>
<g fill="#000000"><circle cx="159.17" cy="460" r="3.3"/><circle cx="160" cy="462.5" r="3.3"/></g>
<circle cx="136.67" cy="460" r="3.3" fill="#00ffff" stroke="none"/>
<g fill="#00ffff"><circle cx="143.33" cy="459.67" r="3.3"/><circle cx="146.94" cy="459.67" r="3.3"/><circle cx="150.56" cy="459.67" r="3.3"/><circle cx="154.17" cy="459.67" r="3.3"/></g>
<g fill="#0000ff"><circle cx="151.67" cy="442" r="3.3"/><circle cx="154.73" cy="442.1" r="3.3"/><circle cx="157.8" cy="442.2" r="3.3"/><circle cx="160.87" cy="442.3" r="3.3"/><circle cx="163.93" cy="442.4" r="3.3"/><circle cx="167" cy="442.5" r="3.3"/></g>
<g fill="#0000ff"><circle cx="160" cy="442" r="3.3"/><circle cx="163.5" cy="442" r="3.3"/><circle cx="167" cy="442" r="3.3"/><circle cx="170.5" cy="442" r="3.3"/></g>
<circle cx="204.33" cy="407.83" r="3.3" fill="#0000ff" stroke="none"/>
<circle cx="209.83" cy="405.17" r="3.3" fill="#0000ff" stroke="none"/>
<g fill="#0000ff"><circle cx="215.17" cy="402.67" r="3.3"/><circle cx="216.5" cy="405.17" r="3.3"/></g>
<circle cx="224.67" cy="402.83" r="3.3" fill="#0000ff" stroke="none"/>
<g fill="#0000ff"><circle cx="229.67" cy="400.67" r="3.3"/><circle cx="232.08" cy="400.67" r="3.3"/><circle cx="234.5" cy="400.67" r="3.3"/></g>
<circle cx="232.5" cy="401.33" r="3.3" fill="#0000ff" stroke="none"/>
<circle cx="180.67" cy="435.83" r="3.3" fill="#00ffff" stroke="none"/>
<g fill="#00ffff"><circle cx="187.33" cy="433.17" r="3.3"/><circle cx="191.17" cy="433.83" r="3.3"/></g>
<g fill="#00ffff"><circle cx="199.67" cy="432.17" r="3.3"/><circle cx="201.67" cy="430.83" r="3.3"/></g>
<g fill="#00ffff"><circle cx="207.5" cy="429.33" r="3.3"/><circle cx="210.42" cy="428.83" r="3.3"/><circle cx="213.33" cy="428.33" r="3.3"/></g>
<circle cx="267.5" cy="393" r="3.3" fill="#0000ff" stroke="none"/>
<g fill="#0000ff"><circle cx="278.33" cy="394.67" r="3.3"/><circle cx="281.67" cy="397.5" r="3.3"/><circle cx="285.83" cy="395.33" r="3.3"/><circle cx="288.75" cy="396" r="3.3"/><circle cx="291.67" cy="396.67" r="3.3"/><circle cx="295" cy="396" r="3.3"/><circle cx="298.33" cy="395.33" r="3.3"/><circle cx="300.83" cy="395.83" r="3.3"/><circle cx="303.33" cy="396.33" r="3.3"/></g>
<circle cx="243" cy="424.17" r="3.3" fill="#00ffff" stroke="none"/>
<circle cx="248.33" cy="427" r="3.3" fill="#00ffff" stroke="none"/>
<g fill="#00ffff"><circle cx="260" cy="425.33" r="3.3"/><circle cx="263.33" cy="425.5" r="3.3"/><circle cx="266.67" cy="425.67" r="3.3"/><circle cx="270" cy="425.83" r="3.3"/><circle cx="273.75" cy="426.08" r="3.3"/><circle cx="277.5" cy="426.33" r="3.3"/><circle cx="281.25" cy="425.5" r="3.3"/><circle cx="285" cy="424.67" r="3.3"/></g>
<circle cx="175" cy="458.33" r="3.3" fill="#000000" stroke="none"/>
<circle cx="178.33" cy="463.67" r="3.3" fill="#000000" stroke="none"/>
<g fill="#000000"><circle cx="196.67" cy="464.17" r="3.3"/><circle cx="200.83" cy="466.33" r="3.3"/></g>
<circle cx="210" cy="459.33" r="3.3" fill="#000000" stroke="none"/>
<circle cx="216.67" cy="462.5" r="3.3" fill="#000000" stroke="none"/>
<g fill="#000000"><circle cx="222.5" cy="463.67" r="3.3"/><circle cx="226.33" cy="464.33" r="3.3"/></g>
<circle cx="233.83" cy="468" r="3.3" fill="#000000" stroke="none"/>
<g fill="#000000"><circle cx="246.67" cy="466.33" r="3.3"/><circle cx="249.17" cy="466" r="3.3"/><circle cx="251.67" cy="465.67" r="3.3"/></g>
<circle cx="276.67" cy="469.17" r="3.3" fill="#000000" stroke="none"/>
<circle cx="277.5" cy="469.17" r="3.3" fill="#000000" stroke="none"/>
<circle cx="294.17" cy="470.33" r="3.3" fill="#000000" stroke="none"/>
</g>
<text x="57.7" y="509.7" font-size="10.3" text-anchor="middle">0</text>
<text x="104.4" y="509.7" font-size="10.3" text-anchor="middle">0.1</text>
<text x="151.1" y="509.7" font-size="10.3" text-anchor="middle">0.2</text>
<text x="197.8" y="509.7" font-size="10.3" text-anchor="middle">0.3</text>
<text x="244.5" y="509.7" font-size="10.3" text-anchor="middle">0.4</text>
<text x="291.2" y="509.7" font-size="10.3" text-anchor="middle">0.5</text>
<text x="337.9" y="509.7" font-size="10.3" text-anchor="middle">0.6</text>
<text x="35.9" y="495.1" font-size="10.3" text-anchor="end">0</text>
<text x="35.9" y="466.15" font-size="10.3" text-anchor="end">0.05</text>
<text x="35.9" y="437.2" font-size="10.3" text-anchor="end">0.1</text>
<text x="35.9" y="408.25" font-size="10.3" text-anchor="end">0.15</text>
<text x="35.9" y="379.3" font-size="10.3" text-anchor="end">0.2</text>
<text x="191.3" y="371.5" font-size="10.9" font-weight="bold" text-anchor="middle" style="fill:#000">Decay rate</text>
<text transform="translate(10.0,434.3) rotate(-90)" font-size="10.8" text-anchor="middle">Standard deviation</text>
<text x="190.5" y="524.4" font-size="10.8" text-anchor="middle">Mean</text>
<rect x="47.3" y="384.3" width="150.2" height="40.6" fill="#fff" stroke="#5e5e5e" stroke-width="1"/>
<circle cx="68.6" cy="392" r="2.9" fill="#000000"/>
<text x="87.9" y="396" font-size="9.7">0.01 1/hr</text>
<circle cx="68.6" cy="404.6" r="2.9" fill="#0000ff"/>
<text x="87.9" y="408.6" font-size="9.7">0.1 1/hr</text>
<circle cx="68.6" cy="416.9" r="2.9" fill="#00ffff"/>
<text x="87.9" y="420.9" font-size="9.7">Temperature dependent</text>
<path d="M406.4 375.8H701.7M406.4 491.6H701.7" stroke="#666" stroke-width="1" fill="none"/>
<path d="M406.9 375.8V491.6M701.2 375.8V491.6" stroke="#737373" stroke-width="1" fill="none"/>
<path d="M420.7 491.6v3M420.7 375.8v-3M467.4 491.6v3M467.4 375.8v-3M514.1 491.6v3M514.1 375.8v-3M560.8 491.6v3M560.8 375.8v-3M607.5 491.6v3M607.5 375.8v-3M654.2 491.6v3M654.2 375.8v-3M700.9 491.6v3M700.9 375.8v-3M406.9 491.6h-3M701.2 491.6h3M406.9 462.65h-3M701.2 462.65h3M406.9 433.7h-3M701.2 433.7h3M406.9 404.75h-3M701.2 404.75h3M406.9 375.8h-3M701.2 375.8h3" stroke="#555555" stroke-width="1" fill="none"/>
<g transform="translate(362.5,0)" stroke-linecap="round" stroke-linejoin="round" fill="none" stroke-width="6.6">
<circle cx="58.33" cy="491.33" r="3.3" fill="#00ffff" stroke="none"/>
<circle cx="85" cy="475" r="3.3" fill="#00ffff" stroke="none"/>
<circle cx="99.17" cy="477.5" r="3.3" fill="#0000ff" stroke="none"/>
<g fill="#00ffff"><circle cx="100" cy="476.33" r="3.3"/><circle cx="100.83" cy="473.67" r="3.3"/></g>
<circle cx="107.5" cy="477" r="3.3" fill="#0000ff" stroke="none"/>
<circle cx="109.67" cy="475" r="3.3" fill="#00ffff" stroke="none"/>
<circle cx="116.67" cy="477.83" r="3.3" fill="#0000ff" stroke="none"/>
<circle cx="115.83" cy="478.33" r="3.3" fill="#00ffff" stroke="none"/>
<circle cx="130" cy="476.67" r="3.3" fill="#0000ff" stroke="none"/>
<g fill="#00ffff"><circle cx="125.83" cy="475.83" r="3.3"/><circle cx="128.75" cy="477.08" r="3.3"/><circle cx="131.67" cy="478.33" r="3.3"/></g>
<g fill="#0000ff"><circle cx="140" cy="477.83" r="3.3"/><circle cx="144.17" cy="477.83" r="3.3"/></g>
<circle cx="154.17" cy="479.5" r="3.3" fill="#00ffff" stroke="none"/>
<circle cx="161.33" cy="479.67" r="3.3" fill="#00ffff" stroke="none"/>
<circle cx="113.33" cy="465" r="3.3" fill="#0000ff" stroke="none"/>
<g fill="#00ffff"><circle cx="106.67" cy="466.33" r="3.3"/><circle cx="109.5" cy="465.57" r="3.3"/><circle cx="112.33" cy="464.8" r="3.3"/><circle cx="115.17" cy="464.03" r="3.3"/><circle cx="118" cy="463.27" r="3.3"/><circle cx="120.83" cy="462.5" r="3.3"/></g>
<circle cx="121.67" cy="458" r="3.3" fill="#00ffff" stroke="none"/>
<circle cx="130" cy="448" r="3.3" fill="#0000ff" stroke="none"/>
<g fill="#00ffff"><circle cx="119.67" cy="451.33" r="3.3"/><circle cx="122.73" cy="450.57" r="3.3"/><circle cx="125.8" cy="449.8" r="3.3"/><circle cx="128.87" cy="449.03" r="3.3"/><circle cx="131.93" cy="448.27" r="3.3"/><circle cx="135" cy="447.5" r="3.3"/></g>
<circle cx="154.17" cy="455" r="3.3" fill="#00ffff" stroke="none"/>
<circle cx="159.17" cy="463.33" r="3.3" fill="#0000ff" stroke="none"/>
<circle cx="160" cy="459.17" r="3.3" fill="#00ffff" stroke="none"/>
<circle cx="136.67" cy="459.17" r="3.3" fill="#00ffff" stroke="none"/>
<circle cx="142.5" cy="460.83" r="3.3" fill="#0000ff" stroke="none"/>
<g fill="#00ffff"><circle cx="145.83" cy="459.67" r="3.3"/><circle cx="148.61" cy="459.78" r="3.3"/><circle cx="151.39" cy="459.89" r="3.3"/><circle cx="154.17" cy="460" r="3.3"/></g>
<circle cx="156.67" cy="442.5" r="3.3" fill="#0000ff" stroke="none"/>
<g fill="#00ffff"><circle cx="151.67" cy="442" r="3.3"/><circle cx="154.73" cy="442.2" r="3.3"/><circle cx="157.8" cy="442.4" r="3.3"/><circle cx="160.87" cy="442.6" r="3.3"/><circle cx="163.93" cy="442.8" r="3.3"/><circle cx="167" cy="443" r="3.3"/></g>
<circle cx="205" cy="408" r="3.3" fill="#00ffff" stroke="none"/>
<circle cx="210.33" cy="405.83" r="3.3" fill="#0000ff" stroke="none"/>
<g fill="#00ffff"><circle cx="215.83" cy="403.33" r="3.3"/><circle cx="216.67" cy="405" r="3.3"/></g>
<circle cx="225.33" cy="403" r="3.3" fill="#0000ff" stroke="none"/>
<g fill="#00ffff"><circle cx="230.83" cy="401.33" r="3.3"/><circle cx="234.17" cy="400.83" r="3.3"/></g>
<circle cx="181.33" cy="436.33" r="3.3" fill="#00ffff" stroke="none"/>
<circle cx="188" cy="433.67" r="3.3" fill="#00ffff" stroke="none"/>
<circle cx="192.5" cy="434.17" r="3.3" fill="#0000ff" stroke="none"/>
<circle cx="200" cy="430" r="3.3" fill="#0000ff" stroke="none"/>
<g fill="#00ffff"><circle cx="199.67" cy="431.67" r="3.3"/><circle cx="201.67" cy="430.83" r="3.3"/></g>
<g fill="#00ffff"><circle cx="207.5" cy="429.17" r="3.3"/><circle cx="210.42" cy="428.75" r="3.3"/><circle cx="213.33" cy="428.33" r="3.3"/></g>
<circle cx="244.17" cy="423.67" r="3.3" fill="#00ffff" stroke="none"/>
<circle cx="249.17" cy="426.67" r="3.3" fill="#00ffff" stroke="none"/>
<circle cx="260.83" cy="425" r="3.3" fill="#0000ff" stroke="none"/>
<circle cx="265" cy="425.33" r="3.3" fill="#00ffff" stroke="none"/>
<circle cx="156.67" cy="443.33" r="3.3" fill="#0000ff" stroke="none"/>
<g fill="#00ffff"><circle cx="152.5" cy="442" r="3.3"/><circle cx="156" cy="442.1" r="3.3"/><circle cx="159.5" cy="442.2" r="3.3"/><circle cx="163" cy="442.3" r="3.3"/><circle cx="166.5" cy="442.4" r="3.3"/><circle cx="170" cy="442.5" r="3.3"/></g>
<circle cx="154.17" cy="455" r="3.3" fill="#00ffff" stroke="none"/>
<circle cx="152.5" cy="459.17" r="3.3" fill="#00ffff" stroke="none"/>
<circle cx="160.83" cy="458.67" r="3.3" fill="#00ffff" stroke="none"/>
<circle cx="160.83" cy="463" r="3.3" fill="#0000ff" stroke="none"/>
<circle cx="175.33" cy="458" r="3.3" fill="#00ffff" stroke="none"/>
<circle cx="179.17" cy="463.67" r="3.3" fill="#0000ff" stroke="none"/>
<circle cx="197.5" cy="463.67" r="3.3" fill="#0000ff" stroke="none"/>
<circle cx="200.83" cy="465.83" r="3.3" fill="#00ffff" stroke="none"/>
<circle cx="210.33" cy="459.17" r="3.3" fill="#00ffff" stroke="none"/>
<circle cx="217" cy="462.5" r="3.3" fill="#00ffff" stroke="none"/>
<g fill="#0000ff"><circle cx="223" cy="463.33" r="3.3"/><circle cx="226.67" cy="464.17" r="3.3"/></g>
<circle cx="234.17" cy="468" r="3.3" fill="#00ffff" stroke="none"/>
<g fill="#0000ff"><circle cx="246.67" cy="466.33" r="3.3"/><circle cx="249.33" cy="465.83" r="3.3"/><circle cx="252" cy="465.33" r="3.3"/></g>
<circle cx="276.67" cy="469.17" r="3.3" fill="#00ffff" stroke="none"/>
<circle cx="161.33" cy="479.67" r="3.3" fill="#00ffff" stroke="none"/>
<g fill="#00ffff"><circle cx="230" cy="401.33" r="3.3"/><circle cx="234.17" cy="401.33" r="3.3"/></g>
<circle cx="268" cy="393" r="3.3" fill="#00ffff" stroke="none"/>
<circle cx="279.17" cy="394.67" r="3.3" fill="#0000ff" stroke="none"/>
<circle cx="282.5" cy="396.67" r="3.3" fill="#00ffff" stroke="none"/>
<circle cx="286.67" cy="395.33" r="3.3" fill="#0000ff" stroke="none"/>
<circle cx="290.83" cy="395.83" r="3.3" fill="#00ffff" stroke="none"/>
<circle cx="293" cy="397" r="3.3" fill="#0000ff" stroke="none"/>
<circle cx="301.67" cy="395" r="3.3" fill="#0000ff" stroke="none"/>
<g fill="#00ffff"><circle cx="299.17" cy="395.33" r="3.3"/><circle cx="301.67" cy="395.83" r="3.3"/><circle cx="304.17" cy="396.33" r="3.3"/></g>
<circle cx="244.17" cy="423.67" r="3.3" fill="#00ffff" stroke="none"/>
<circle cx="249.17" cy="426.67" r="3.3" fill="#00ffff" stroke="none"/>
<circle cx="260.83" cy="425" r="3.3" fill="#0000ff" stroke="none"/>
<circle cx="264.17" cy="425.83" r="3.3" fill="#00ffff" stroke="none"/>
<circle cx="270" cy="426.33" r="3.3" fill="#0000ff" stroke="none"/>
<circle cx="275.83" cy="424.17" r="3.3" fill="#00ffff" stroke="none"/>
<circle cx="280" cy="424.17" r="3.3" fill="#0000ff" stroke="none"/>
<circle cx="278.33" cy="426.67" r="3.3" fill="#00ffff" stroke="none"/>
<circle cx="285.83" cy="424.67" r="3.3" fill="#00ffff" stroke="none"/>
<circle cx="234.17" cy="467.83" r="3.3" fill="#00ffff" stroke="none"/>
<g fill="#0000ff"><circle cx="246.67" cy="466.17" r="3.3"/><circle cx="249.17" cy="466" r="3.3"/><circle cx="251.67" cy="465.83" r="3.3"/></g>
<circle cx="277.5" cy="469.17" r="3.3" fill="#00ffff" stroke="none"/>
<circle cx="295" cy="470" r="3.3" fill="#00ffff" stroke="none"/>
</g>
<text x="420.2" y="509.7" font-size="10.3" text-anchor="middle">0</text>
<text x="466.9" y="509.7" font-size="10.3" text-anchor="middle">0.1</text>
<text x="513.6" y="509.7" font-size="10.3" text-anchor="middle">0.2</text>
<text x="560.3" y="509.7" font-size="10.3" text-anchor="middle">0.3</text>
<text x="607" y="509.7" font-size="10.3" text-anchor="middle">0.4</text>
<text x="653.7" y="509.7" font-size="10.3" text-anchor="middle">0.5</text>
<text x="700.4" y="509.7" font-size="10.3" text-anchor="middle">0.6</text>
<text x="398.7" y="495.1" font-size="10.3" text-anchor="end">0</text>
<text x="398.7" y="466.15" font-size="10.3" text-anchor="end">0.05</text>
<text x="398.7" y="437.2" font-size="10.3" text-anchor="end">0.1</text>
<text x="398.7" y="408.25" font-size="10.3" text-anchor="end">0.15</text>
<text x="398.7" y="379.3" font-size="10.3" text-anchor="end">0.2</text>
<text x="554.05" y="371.5" font-size="10.9" font-weight="bold" text-anchor="middle" style="fill:#000">Particle size ratio</text>
<text x="553.25" y="524.4" font-size="10.8" text-anchor="middle">Mean</text>
<rect x="414.9" y="384.2" width="130.5" height="40.9" fill="#fff" stroke="#5e5e5e" stroke-width="1"/>
<circle cx="435.6" cy="392.1" r="2.9" fill="#000000"/>
<text x="455.4" y="396.1" font-size="9.7">All small</text>
<circle cx="435.6" cy="404.6" r="2.9" fill="#0000ff"/>
<text x="455.4" y="408.6" font-size="9.7">Half small/half large</text>
<circle cx="435.6" cy="417" r="2.9" fill="#00ffff"/>
<text x="455.4" y="421" font-size="9.7">All large</text>
</svg></body></html>
